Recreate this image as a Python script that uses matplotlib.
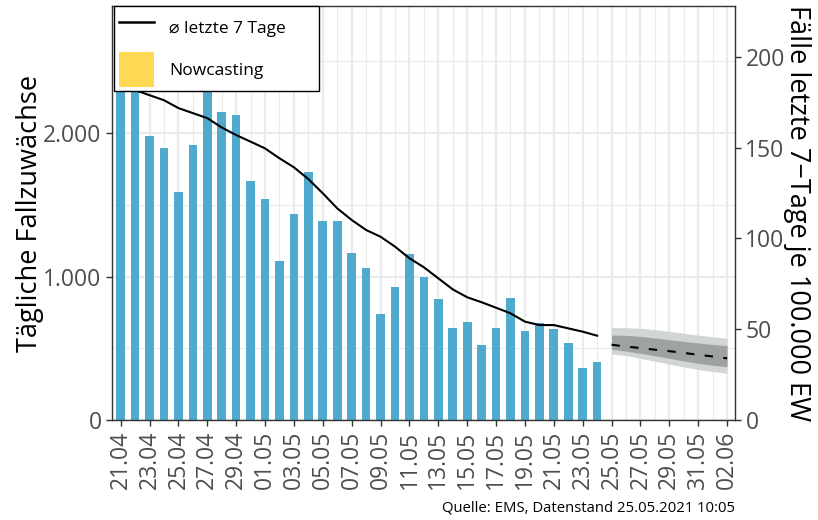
import numpy as np
import matplotlib
matplotlib.use("Agg")
import matplotlib.pyplot as plt
import pandas as pd
from matplotlib.lines import Line2D
from matplotlib.patches import Patch

plt.rcParams['font.family'] = ['Open Sans', 'DejaVu Sans']

# Tage (21.04. bis 02.06.2021)
tage = pd.date_range("2021-04-21", "2021-06-02", freq="D")
tick_labels = [d.strftime("%d.%m") for d in tage]

# tägliche Fallzuwächse 21.04. - 24.05.
faelle = [2450, 2400, 1980, 1900, 1590, 1915, 2300, 2150, 2130, 1665,
          1540, 1110, 1440, 1730, 1390, 1385, 1162, 1062, 737, 930,
          1158, 1000, 844, 639, 681, 523, 644, 849, 623, 674,
          635, 535, 360, 402]

# Durchschnitt letzte 7 Tage
schnitt7 = [2330, 2300, 2265, 2230, 2175, 2140, 2105, 2040, 1987, 1941,
            1894, 1825, 1762, 1680, 1581, 1476, 1395, 1325, 1278, 1209,
            1128, 1065, 988, 911, 856, 821, 783, 744, 686, 662,
            662, 639, 616, 588]

# Nowcasting 25.05. - 02.06.
now_mitte = [525, 512, 502, 490, 480, 468, 455, 443, 430]
now_aussen_oben = [644, 644, 640, 630, 618, 605, 592, 580, 570]
now_aussen_unten = [460, 450, 430, 410, 390, 370, 352, 338, 326]
now_innen_oben = [593, 590, 583, 572, 560, 548, 537, 527, 518]
now_innen_unten = [493, 480, 465, 448, 430, 412, 395, 382, 372]

x_bar = np.arange(len(faelle))
x_now = np.arange(len(faelle), len(faelle) + len(now_mitte))

fig = plt.figure(figsize=(8.18, 5.2), dpi=100)
ax = fig.add_axes([112/818, 100/520, 623/818, 414/520])

ax.set_xlim(-0.6, len(tage) - 1 + 0.55)
ax.set_ylim(0, 2887)

# Gitter
ax.set_xticks(np.arange(0, len(tage), 2))
ax.set_xticks(np.arange(1, len(tage), 2), minor=True)
ax.set_xticklabels(tick_labels[::2], rotation=90)
ax.set_yticks([0, 1000, 2000])
ax.set_yticks([500, 1500, 2500], minor=True)
ax.set_yticklabels(["0", "1.000", "2.000"])
ax.grid(which="major", color="#EBEBEB", lw=1.6)
ax.grid(which="minor", color="#EBEBEB", lw=0.8)
ax.set_axisbelow(True)

ax.bar(x_bar, faelle, width=0.6, color="#4FAACD", zorder=2)
ax.plot(x_bar, schnitt7, color="black", lw=1.5, zorder=3)

ax.fill_between(x_now, now_aussen_unten, now_aussen_oben, color="#D2D6D3", lw=0, zorder=2)
ax.fill_between(x_now, now_innen_unten, now_innen_oben, color="#9EA39F", lw=0, zorder=2)
ax.plot(x_now, now_mitte, color="black", lw=1.5, ls=(0, (4, 5)), zorder=3)

for s in ax.spines.values():
    s.set_color("#333333")
    s.set_linewidth(1.0)
ax.tick_params(which="major", length=4.5, width=1, color="#333333",
               labelsize=16.5, labelcolor="#4D4D4D", pad=3)
ax.tick_params(which="minor", length=0)

ax2 = ax.twinx()
ax2.set_ylim(0, 228)
ax2.set_yticks([0, 50, 100, 150, 200])
ax2.tick_params(length=4.5, width=1, color="#333333",
                labelsize=16.5, labelcolor="#4D4D4D", pad=3)
for s in ax2.spines.values():
    s.set_visible(False)

fig.text(30/818, 1 - 213/520, "Tägliche Fallzuwächse", rotation=90,
         ha="center", va="center", fontsize=19.5)
fig.text(797/818, 1 - 213/520, "Fälle letzte 7\u2212Tage je 100.000 EW", rotation=270,
         ha="center", va="center", fontsize=19.5)
fig.text(735/818, 1 - 508/520, "Quelle: EMS, Datenstand 25.05.2021 10:05",
         ha="right", va="center", fontsize=10.7)

handles = [Line2D([0], [0], color="black", lw=1.8),
           Patch(facecolor="#FFD954", edgecolor="none")]
leg = fig.legend(handles, ["\u2300 letzte 7 Tage", "Nowcasting"],
                 loc="upper left", mode="expand",
                 bbox_to_anchor=(114/818, 1 - 91/520, 205/818, 85/520),
                 fontsize=12.5, frameon=True, fancybox=False, framealpha=1,
                 edgecolor="black", handlelength=2.07, handleheight=2.7,
                 handletextpad=0.86, labelspacing=0.4, borderpad=0.26,
                 borderaxespad=0)
leg.get_frame().set_linewidth(1.0)
leg.set_zorder(10)

fig.savefig("out.png", dpi=100)
